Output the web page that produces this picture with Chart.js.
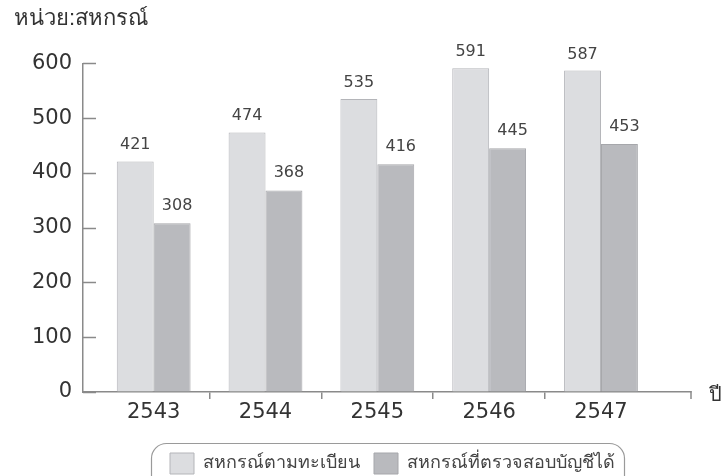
<!DOCTYPE html>
<html>
<head>
	<meta charset="utf-8">
	<title>สหกรณ์ตามทะเบียน / สหกรณ์ที่ตรวจสอบบัญชีได้</title>
	<script src="https://cdn.jsdelivr.net/npm/chart.js"></script>
	<style>
		body { margin: 0; padding: 0; background: #fff; }
		#wrap { width: 721px; height: 476px; }
	</style>
</head>
<body>
	<div id="wrap"><canvas id="chart" width="721" height="476"></canvas></div>

	<script>
		// ข้อมูล
		var years = [2543, 2544, 2545, 2546, 2547];
		var registered = [421, 474, 535, 591, 587];
		var audited = [308, 368, 416, 445, 453];
		var yTicks = [0, 100, 200, 300, 400, 500, 600];
		var unitLabel = 'หน่วย:สหกรณ์';
		var yearLabel = 'ปี';
		var seriesNames = ['สหกรณ์ตามทะเบียน', 'สหกรณ์ที่ตรวจสอบบัญชีได้'];

		var NUM = '"DejaVu Sans", sans-serif';
		var TH = 'sans-serif';
		var AXIS = '#8a8a8a';

		// ตัวเลขบนแท่ง + ขีดแกน + กรอบคำอธิบาย
		var extras = {
			id: 'extras',
			afterLayout: function(chart) {
				// เลื่อนคำอธิบายไปทางขวาเล็กน้อย
				chart.legend.left += 40;
				chart.legend.right += 40;
			},
			afterDatasetsDraw: function(chart) {
				var ctx = chart.ctx;
				var dx = [0, 5], gap = [12, 13];
				ctx.save();
				ctx.font = '16px ' + NUM;
				ctx.fillStyle = '#444';
				ctx.textAlign = 'center';
				ctx.textBaseline = 'alphabetic';
				chart.data.datasets.forEach(function(ds, i) {
					chart.getDatasetMeta(i).data.forEach(function(bar, j) {
						ctx.fillText(ds.data[j].y, bar.x + dx[i], bar.y - gap[i]);
					});
				});
				ctx.restore();
			},
			afterDraw: function(chart) {
				var ctx = chart.ctx, a = chart.chartArea, y = chart.scales.y;
				ctx.save();
				ctx.strokeStyle = AXIS;
				ctx.lineWidth = 1.5;
				// ขีดแกน y ด้านใน
				yTicks.forEach(function(v) {
					var py = Math.round(y.getPixelForValue(v)) + 0.5;
					ctx.beginPath();
					ctx.moveTo(a.left, py);
					ctx.lineTo(a.left + 13, py);
					ctx.stroke();
				});
				// ขีดปลายแกน x
				ctx.beginPath();
				ctx.moveTo(a.right, a.bottom - 1);
				ctx.lineTo(a.right, a.bottom + 7);
				ctx.stroke();
				// ปี
				ctx.fillStyle = '#333';
				ctx.font = '20px ' + TH;
				ctx.textAlign = 'left';
				ctx.textBaseline = 'middle';
				ctx.fillText(yearLabel, a.right + 18, a.bottom + 3);
				// กรอบคำอธิบาย
				var hb = chart.legend.legendHitBoxes;
				if (hb && hb.length) {
					var last = hb[hb.length - 1];
					var l = hb[0].left - 19;
					var r = last.left + last.width + 9;
					var t = hb[0].top - 10;
					ctx.strokeStyle = '#9a9a9a';
					ctx.lineWidth = 1.2;
					ctx.beginPath();
					ctx.roundRect(l + 0.5, t + 0.5, r - l, 60, 15);
					ctx.stroke();
				}
				ctx.restore();
			}
		};

		var ctx = document.getElementById('chart').getContext('2d');
		var chart = new Chart(ctx, {
			type: 'bar',
			data: {
				datasets: [{
					label: seriesNames[0],
					data: years.map(function(x, i) { return { x: x, y: registered[i] }; }),
					backgroundColor: '#dcdde0',
					borderColor: '#b4b5b9',
					borderWidth: 1
				}, {
					label: seriesNames[1],
					data: years.map(function(x, i) { return { x: x, y: audited[i] }; }),
					backgroundColor: '#b9babe',
					borderColor: '#a6a7ab',
					borderWidth: 1
				}]
			},
			options: {
				responsive: false,
				animation: false,
				categoryPercentage: 0.66,
				barPercentage: 1.0,
				layout: { padding: { left: 14, right: 30, top: 0, bottom: -8 } },
				plugins: {
					tooltip: { enabled: false },
					title: {
						display: true,
						text: unitLabel,
						align: 'start',
						color: '#333',
						font: { family: TH, size: 22, weight: 'normal', lineHeight: 1.2 },
						padding: { top: 6, bottom: 31 }
					},
					legend: {
						position: 'bottom',
						labels: {
							boxWidth: 24,
							boxHeight: 21,
							padding: 14,
							color: '#444',
							font: { family: TH, size: 18 }
						}
					}
				},
				scales: {
					x: {
						type: 'linear',
						offset: false,
						min: 2542.368,
						max: 2547.805,
						afterBuildTicks: function(s) {
							s.ticks = years.map(function(v) { return { value: v }; });
						},
						afterFit: function(s) { s.height = 47; },
						ticks: {
							color: '#333',
							font: { family: NUM, size: 21 },
							padding: 1,
							maxRotation: 0,
							callback: function(v) { return String(v); }
						},
						grid: {
							offset: true,
							drawOnChartArea: false,
							tickLength: 7,
							lineWidth: 1.5,
							color: function(c) {
								return (c.type !== 'tick' || c.index === 0) ? 'rgba(0,0,0,0)' : AXIS;
							}
						},
						border: { color: AXIS, width: 1.5 }
					},
					y: {
						min: 0,
						max: 600,
						afterFit: function(s) { s.width = 69; },
						ticks: {
							stepSize: 100,
							color: '#333',
							font: { family: NUM, size: 21 },
							padding: 11
						},
						grid: { drawOnChartArea: false, drawTicks: false },
						border: { color: AXIS, width: 1.5 }
					}
				}
			},
			plugins: [extras]
		});
	</script>
</body>
</html>
